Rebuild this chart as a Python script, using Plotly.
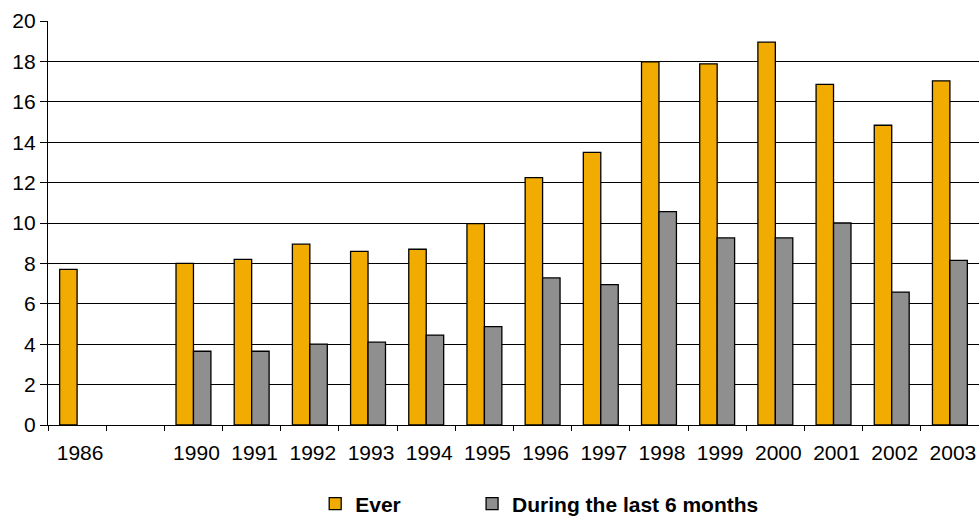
import plotly.graph_objects as go

years = ["1986", " ", "1990", "1991", "1992", "1993", "1994", "1995", "1996",
         "1997", "1998", "1999", "2000", "2001", "2002", "2003"]
ever = [7.7, None, 8.0, 8.2, 8.95, 8.6, 8.7, 9.97, 12.25, 13.5, 17.98, 17.88,
        18.95, 16.86, 14.84, 17.04]
last6 = [None, None, 3.65, 3.65, 4.0, 4.1, 4.45, 4.87, 7.28, 6.95, 10.56, 9.26,
         9.26, 10.0, 6.58, 8.15]
y_ticks = [0, 2, 4, 6, 8, 10, 12, 14, 16, 18, 20]

FONT = "Liberation Sans, Arial, sans-serif"

fig = go.Figure()
fig.add_trace(go.Bar(x=years, y=ever, name="Ever", legend="legend",
                     marker=dict(color="#F2AB00", line=dict(color="#000000", width=1.3))))
fig.add_trace(go.Bar(x=years, y=last6, name="During the last 6 months", legend="legend2",
                     marker=dict(color="#8F8F8F", line=dict(color="#000000", width=1.3))))

legend_common = dict(orientation="h", xanchor="left", yref="container",
                     y=0.027, yanchor="middle",
                     font=dict(family=FONT, size=21, color="#000000", weight="bold"),
                     bgcolor="rgba(0,0,0,0)")

fig.update_layout(
    width=979, height=518,
    margin=dict(l=48, r=0, t=21, b=93, autoexpand=False),
    paper_bgcolor="white", plot_bgcolor="white",
    barmode="group", bargap=0.4, bargroupgap=0,
    font=dict(family=FONT, size=21, color="#000000"),
    showlegend=True,
    legend=dict(x=0.287, **legend_common),
    legend2=dict(x=0.4555, **legend_common),
    xaxis=dict(type="category", categoryorder="array", categoryarray=years,
               tickson="boundaries", ticks="outside", ticklen=5, tickwidth=1.3,
               tickcolor="#000000", showline=True, linecolor="#000000", linewidth=1.3,
               showgrid=False, tickfont=dict(size=21), ticklabelstandoff=9,
               ticklabelshift=3, automargin=False),
    yaxis=dict(range=[0, 20], tickvals=y_ticks, ticks="outside", ticklen=7,
               tickwidth=1.3, tickcolor="#000000", showline=True, linecolor="#000000",
               linewidth=1.3, showgrid=True, gridcolor="#000000", gridwidth=1.3,
               zeroline=False, tickfont=dict(size=21), automargin=False),
)

fig.write_html("out.html", config={"displayModeBar": False},
               post_script="document.body.style.margin='0';document.body.style.overflow='hidden';")
